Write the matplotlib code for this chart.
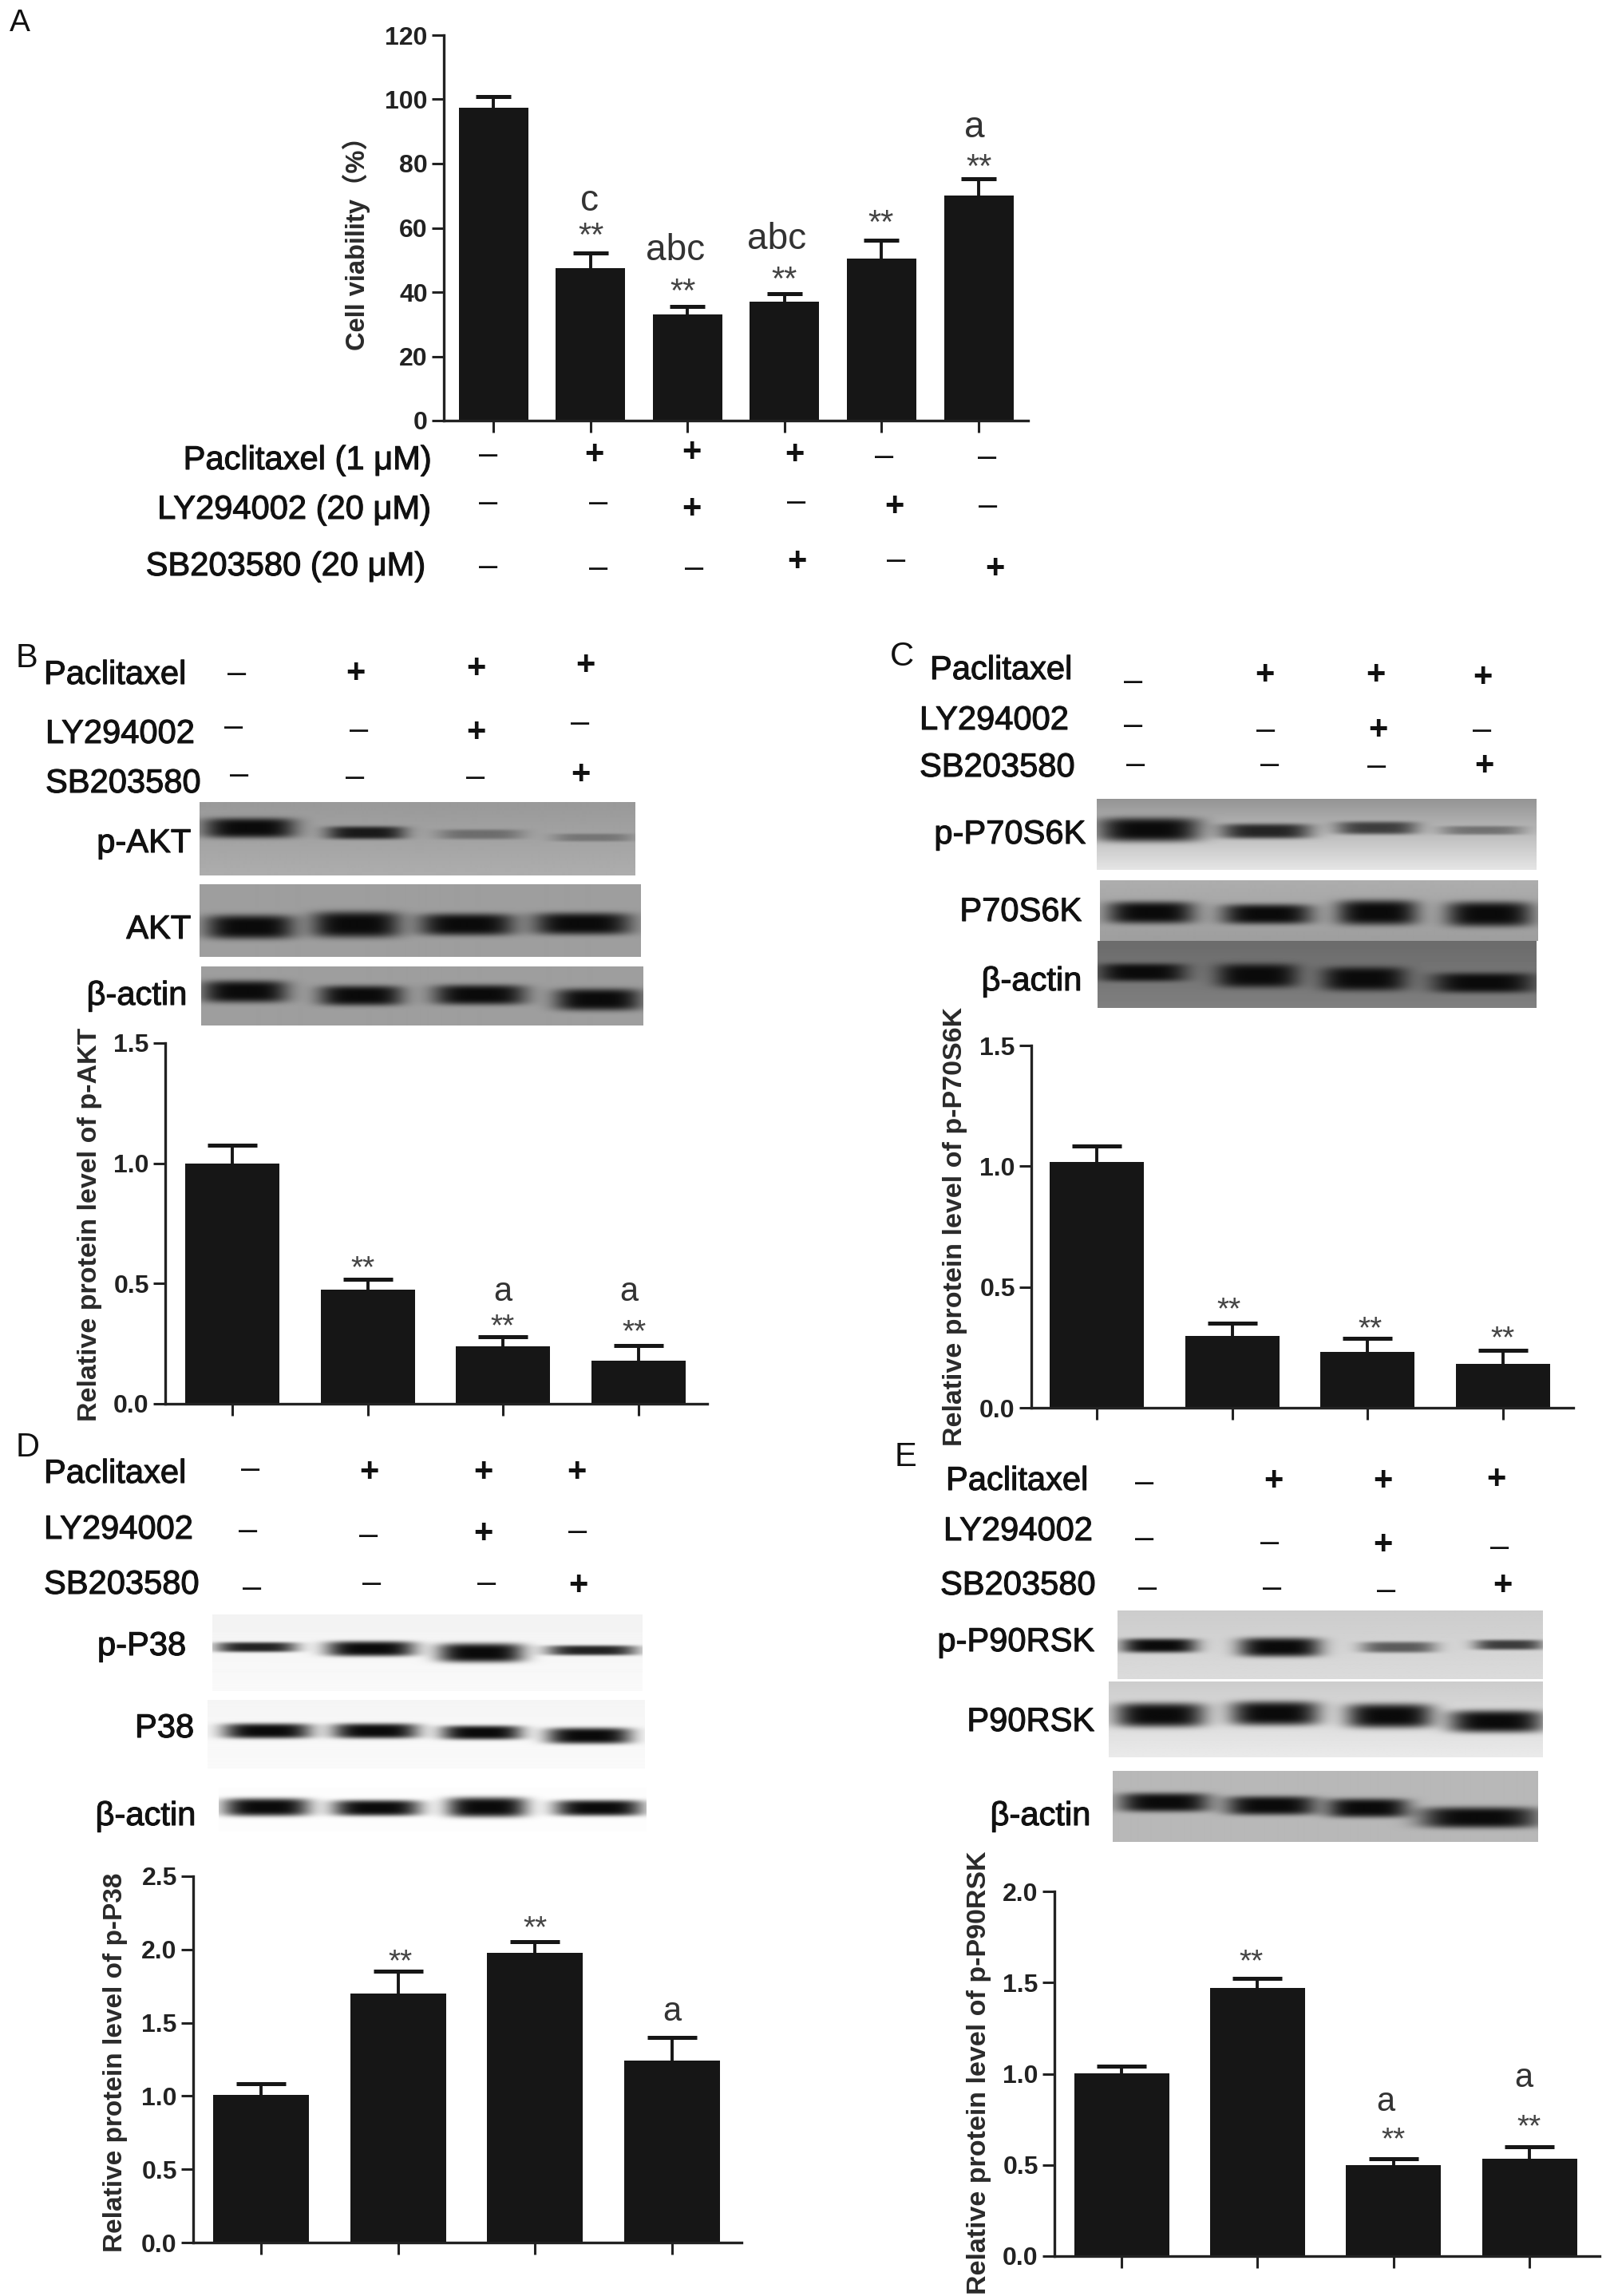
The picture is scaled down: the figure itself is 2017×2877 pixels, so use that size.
import numpy as np
import matplotlib
matplotlib.use("Agg")
import matplotlib.pyplot as plt
import matplotlib.patheffects as pe

W, H = 2017, 2877
plt.rcParams['font.family'] = ['Liberation Sans', 'Noto Sans CJK SC', 'DejaVu Sans']

# bar values
a_means = [97.5, 47.5, 33, 37, 50.5, 70]
a_errs = [3.3, 4.6, 2.6, 2.6, 5.6, 5.2]
b_means = [1.0, 0.476, 0.238, 0.18]
b_errs = [0.075, 0.042, 0.04, 0.063]
c_means = [1.018, 0.298, 0.232, 0.182]
c_errs = [0.065, 0.051, 0.055, 0.055]
d_means = [1.008, 1.702, 1.979, 1.241]
d_errs = [0.075, 0.149, 0.075, 0.161]
e_means = [1.003, 1.471, 0.498, 0.532]
e_errs = [0.039, 0.051, 0.037, 0.068]

# treatment tables
a_treat = ["–+++––", "––+–+–", "–––+–+"]
wb_treat = ["–+++", "––+–", "–––+"]
a_row_labels = ["Paclitaxel (1 μM)", "LY294002 (20 μM)", "SB203580 (20 μM)"]
wb_row_labels = ["Paclitaxel", "LY294002", "SB203580"]

fig = plt.figure(figsize=(W/100, H/100), dpi=100, facecolor='white')


def put(x, y, s, size=30, color='#111111', **kw):
    kw.setdefault('ha', 'center')
    kw.setdefault('va', 'center')
    return fig.text(x/W, 1-y/H, s, fontsize=size, color=color, **kw)


def signs(table, xs, ys, size=30):
    for row, rx, ry in zip(table, xs, ys):
        for s, x, y in zip(row, rx, ry):
            put(x, y, s, size=size, fontweight='bold' if s == '+' else 'normal')


def row_labels(names, lefts, ys, size=30, ha='left'):
    # the labels in the reference look a bit heavier than regular
    for name, x, y in zip(names, lefts, ys):
        t = put(x, y+2, name, size=size, ha=ha)
        t.set_path_effects([pe.withStroke(linewidth=0.8, foreground='#111111')])


def blot(l, t, r, b, bg, bands):
    # grey strip with soft dark bands, coordinates in figure pixels
    ax = fig.add_axes([l/W, 1-b/H, (r-l)/W, (b-t)/H])
    xx, yy = np.meshgrid(np.arange(l, r), np.arange(t, b))
    top, bottom = bg
    img = top + (bottom-top)*(yy-t)/(b-t)
    for x0, x1, yc, th, strength in bands:
        cx, hw = (x0+x1)/2, (x1-x0)/2
        m = np.exp(-((yy-yc)/(th/1.6))**4)*np.exp(-((xx-cx)/hw)**4)*strength
        img = img*(1-m) + 0.04*m
    ax.imshow(img, cmap='gray', vmin=0, vmax=1, aspect='auto', interpolation='bilinear')
    ax.axis('off')


def bars(left, right, top, zero, centers, width, means, errs, ymax, yticks, cap, ylabel, lab_x, lab_y, lab_size, ylabels):
    ax = fig.add_axes([left/W, 1-zero/H, (right-left)/W, (zero-top)/H])
    step = (centers[-1]-centers[0])/(len(centers)-1)
    x = np.arange(len(means))
    ax.bar(x, means, width=width/step, color='#161616', zorder=2)
    _, caps, _ = ax.errorbar(x, means, yerr=[np.zeros(len(errs)), errs], fmt='none', ecolor='#161616',
                             elinewidth=2.8, capsize=cap, capthick=3.6, zorder=1)
    caps[0].set_visible(False)
    ax.set_xlim((left-centers[0])/step, (right-centers[0])/step)
    ax.set_ylim(0, ymax)
    ax.set_xticks(x)
    ax.set_xticklabels([])
    ax.set_yticks(yticks)
    ax.set_yticklabels(ylabels, fontsize=23, fontweight='bold', color='#222222')
    ax.tick_params(axis='both', length=10.5, width=2.2, color='#222222', pad=4)
    ax.patch.set_alpha(0)
    for s in ['top', 'right']:
        ax.spines[s].set_visible(False)
    for s in ['left', 'bottom']:
        ax.spines[s].set_linewidth(2.4)
        ax.spines[s].set_color('#222222')
    put(lab_x, lab_y, ylabel, size=lab_size, rotation=90, fontweight='bold', color='#2a2a2a')
    return ax


def marks(xs, ys, texts, star=28, letter=30):
    for x, y, s in zip(xs, ys, texts):
        if s == '**':
            put(x, y+11, s, size=star, color='#444444')
        else:
            put(x, y, s, size=letter, color='#333333')


# panel A
put(25, 29, "A", size=28)
bars(556, 1288, 44, 527, [618, 739, 861, 982, 1104, 1226], 87, a_means, a_errs, 120,
     [0, 20, 40, 60, 80, 100, 120], 16, "Cell viability（%）", 446, 297, 23.5,
     ['0', '20', '40', '60', '80', '100', '120'])
marks([738, 740, 846, 855, 973, 982, 1103, 1221, 1226],
      [252, 286, 314, 356, 300, 341, 270, 160, 200],
      ['c', '**', 'abc', '**', 'abc', '**', '**', 'a', '**'], star=30, letter=33)
row_labels(a_row_labels, [540, 540, 533], [575, 637, 708], size=30, ha='right')
signs(a_treat,
      [[612, 744, 866, 995, 1108, 1237], [612, 750, 866, 998, 1120, 1238], [612, 750, 870, 998, 1123, 1246]],
      [[570, 570, 567, 570, 572, 573], [630, 630, 638, 629, 635, 634], [710, 712, 712, 704, 702, 713]])

# panel B
put(33, 825, "B", size=30)
row_labels(wb_row_labels, [55, 57, 57], [844, 918, 980])
signs(wb_treat,
      [[297, 445, 596, 733], [293, 450, 596, 727], [300, 445, 596, 727]],
      [[844, 844, 838, 834], [911, 915, 918, 906], [971, 974, 974, 971]])
blot(250, 1005, 795, 1097, (0.60, 0.68),
     [(255, 370, 1037, 20, 1.0), (408, 507, 1043, 13, 0.9), (548, 654, 1045, 10, 0.35), (692, 791, 1049, 8, 0.3)])
blot(250, 1108, 802, 1199, (0.62, 0.62),
     [(257, 369, 1161, 24, 1.0), (390, 501, 1158, 26, 1.0), (524, 644, 1158, 22, 1.0), (667, 790, 1157, 22, 1.0)])
blot(252, 1211, 805, 1285, (0.62, 0.62),
     [(253, 360, 1242, 22, 1.0), (399, 504, 1247, 20, 1.0), (542, 658, 1246, 20, 1.0), (694, 802, 1252, 22, 1.0)])
row_labels(["p-AKT", "AKT", "β-actin"], [239, 239, 234], [1055, 1163, 1246], ha='right')
bars(207, 886, 1307, 1759, [291, 461, 631, 800], 118, b_means, b_errs, 1.5,
     [0, 0.5, 1.0, 1.5], 22, "Relative protein level of p-AKT", 112, 1534, 24.5,
     ['0.0', '0.5', '1.0', '1.5'])
marks([455, 630, 630, 788, 795], [1579, 1619, 1652, 1619, 1659], ['**', 'a', '**', 'a', '**'])

# panel C
put(1130, 823, "C", size=30)
row_labels(wb_row_labels, [1165, 1152, 1152], [838, 901, 960])
signs(wb_treat,
      [[1420, 1584, 1723, 1857], [1420, 1586, 1726, 1857], [1423, 1591, 1725, 1859]],
      [[854, 846, 846, 849], [909, 915, 915, 915], [958, 958, 960, 960]])
blot(1374, 1001, 1925, 1090, (0.58, 0.90),
     [(1376, 1503, 1039, 24, 1.0), (1529, 1642, 1041, 15, 0.85), (1674, 1775, 1037, 13, 0.7), (1804, 1908, 1040, 9, 0.4)])
blot(1378, 1103, 1926, 1179, (0.68, 0.62),
     [(1387, 1496, 1143, 22, 1.0), (1530, 1643, 1145, 20, 1.0), (1674, 1775, 1143, 25, 1.0), (1811, 1918, 1145, 25, 1.0)])
blot(1375, 1179, 1925, 1263, (0.42, 0.50),
     [(1376, 1486, 1218, 18, 1.0), (1524, 1626, 1222, 24, 1.0), (1656, 1762, 1226, 24, 1.0), (1794, 1922, 1231, 20, 1.0)])
row_labels(["p-P70S6K", "P70S6K", "β-actin"], [1360, 1355, 1355], [1044, 1141, 1228], ha='right')
bars(1292, 1971, 1310, 1764, [1374, 1545, 1714, 1883], 118, c_means, c_errs, 1.5,
     [0, 0.5, 1.0, 1.5], 22, "Relative protein level of p-P70S6K", 1196, 1537, 24.5,
     ['0.0', '0.5', '1.0', '1.5'])
marks([1540, 1717, 1883], [1631, 1655, 1667], ['**', '**', '**'])

# panel D
put(35, 1814, "D", size=30)
row_labels(wb_row_labels, [55, 55, 55], [1845, 1915, 1984])
signs(wb_treat,
      [[314, 462, 605, 722], [311, 462, 605, 724], [316, 466, 610, 724]],
      [[1841, 1845, 1845, 1845], [1918, 1924, 1922, 1919], [1990, 1984, 1984, 1987]])
blot(266, 2023, 805, 2119, (0.95, 0.98),
     [(270, 372, 2064, 10, 0.9), (408, 520, 2066, 15, 1.0), (548, 656, 2071, 19, 1.0), (684, 798, 2068, 10, 0.9)])
blot(260, 2130, 808, 2216, (0.96, 0.98),
     [(279, 390, 2169, 15, 1.0), (416, 524, 2169, 15, 1.0), (552, 654, 2171, 14, 1.0), (684, 791, 2175, 16, 1.0)])
blot(274, 2240, 810, 2295, (0.99, 0.99),
     [(279, 388, 2264, 18, 1.0), (416, 527, 2265, 16, 1.0), (559, 660, 2264, 20, 1.0), (694, 805, 2265, 16, 1.0)])
row_labels(["p-P38", "P38", "β-actin"], [233, 243, 245], [2061, 2164, 2274], ha='right')
bars(242, 929, 2351, 2810, [327, 499, 670, 842], 120, d_means, d_errs, 2.5,
     [0, 0.5, 1.0, 1.5, 2.0, 2.5], 22, "Relative protein level of p-P38", 145, 2584, 24,
     ['0.0', '0.5', '1.0', '1.5', '2.0', '2.5'])
marks([502, 671, 842], [2448, 2406, 2521], ['**', '**', 'a'])

# panel E
put(1134, 1826, "E", size=30)
row_labels(wb_row_labels, [1185, 1182, 1178], [1854, 1917, 1985])
signs(wb_treat,
      [[1434, 1595, 1732, 1874], [1434, 1591, 1732, 1879], [1438, 1594, 1737, 1882]],
      [[1858, 1856, 1856, 1854], [1928, 1933, 1936, 1939], [1990, 1990, 1993, 1987]])
blot(1400, 2018, 1932, 2104, (0.80, 0.86),
     [(1405, 1499, 2062, 14, 1.0), (1551, 1654, 2064, 19, 1.0), (1704, 1798, 2064, 11, 0.6), (1846, 1932, 2061, 10, 0.75)])
blot(1389, 2107, 1932, 2202, (0.80, 0.92),
     [(1397, 1509, 2149, 24, 1.0), (1541, 1652, 2147, 24, 1.0), (1686, 1794, 2150, 24, 1.0), (1814, 1932, 2157, 22, 1.0)])
blot(1394, 2219, 1926, 2308, (0.72, 0.72),
     [(1402, 1515, 2258, 19, 1.0), (1535, 1649, 2262, 19, 1.0), (1661, 1764, 2265, 19, 1.0), (1778, 1926, 2277, 21, 1.0)])
row_labels(["p-P90RSK", "P90RSK", "β-actin"], [1371, 1371, 1366], [2056, 2156, 2274], ha='right')
bars(1321, 2004, 2370, 2827, [1405, 1575, 1746, 1916], 119, e_means, e_errs, 2.0,
     [0, 0.5, 1.0, 1.5, 2.0], 22, "Relative protein level of p-P90RSK", 1226, 2597, 24.5,
     ['0.0', '0.5', '1.0', '1.5', '2.0'])
marks([1568, 1736, 1746, 1909, 1916], [2448, 2634, 2671, 2604, 2655], ['**', 'a', '**', 'a', '**'])

fig.savefig("out.png", dpi=100)
